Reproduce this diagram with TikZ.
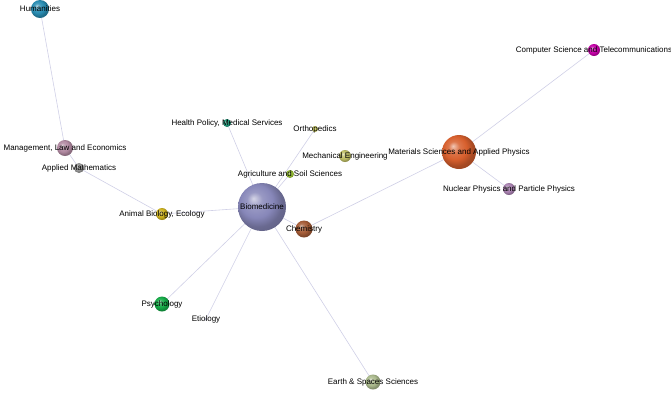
\documentclass[tikz,border=0pt]{standalone}
\usepackage{fontspec}
\setmainfont{Liberation Sans}
\pgfdeclarelayer{bg}
\pgfsetlayers{bg,main}
\definecolor{linkc}{RGB}{208,208,230}
\definecolor{sphc}{RGB}{128,128,128}
\definecolor{cHum}{RGB}{40,140,178}
\definecolor{cMle}{RGB}{178,138,162}
\definecolor{cAm}{RGB}{150,150,150}
\definecolor{cAb}{RGB}{205,178,30}
\definecolor{cHp}{RGB}{30,150,120}
\definecolor{cOrth}{RGB}{200,200,90}
\definecolor{cMech}{RGB}{190,190,100}
\definecolor{cAgri}{RGB}{150,190,50}
\definecolor{cBio}{RGB}{135,135,185}
\definecolor{cChem}{RGB}{165,92,55}
\definecolor{cMat}{RGB}{215,95,45}
\definecolor{cNuc}{RGB}{170,130,178}
\definecolor{cCs}{RGB}{200,0,170}
\definecolor{cPsy}{RGB}{20,170,70}
\definecolor{cEti}{RGB}{180,180,205}
\definecolor{cEarth}{RGB}{170,185,140}
\pgfdeclareradialshading[sphc]{softball}{\pgfpoint{-9bp}{9bp}}{%
  color(0bp)=(sphc!35!white);
  color(8bp)=(sphc!85!white);
  color(17bp)=(sphc);
  color(25bp)=(sphc!78!black);
  color(50bp)=(sphc!55!black)}
\tikzset{
  sph/.style 2 args={circle,inner sep=0pt,outer sep=0pt,minimum size=#2,
    /utils/exec={\colorlet{sphc}{#1}},shade,shading=softball},
  lbl/.style={font=\fontsize{8}{9.5}\selectfont,text=black,inner sep=0pt},
  link/.style={draw=linkc,line width=0.6pt}
}
\begin{document}
\begin{tikzpicture}[x=1pt,y=-1pt]
\useasboundingbox (0,0) rectangle (671,392);
% spheres
\node[sph={cHum}{18pt}] (hum) at (40,9) {};
\node[sph={cMle}{16pt}] (mle) at (65,148) {};
\node[sph={cAm}{10pt}] (am) at (79,168) {};
\node[sph={cAb}{12pt}] (ab) at (162,214) {};
\node[sph={cHp}{8pt}] (hp) at (227,123) {};
\node[sph={cOrth}{6pt}] (orth) at (315,129) {};
\node[sph={cMech}{12pt}] (mech) at (345,156) {};
\node[sph={cAgri}{8pt}] (agri) at (290,174) {};
\node[sph={cBio}{48pt}] (bio) at (262,207) {};
\node[sph={cChem}{17pt}] (chem) at (304,229) {};
\node[sph={cMat}{34pt}] (mat) at (459,152) {};
\node[sph={cNuc}{12pt}] (nuc) at (509,189) {};
\node[sph={cCs}{12pt}] (cs) at (594,50) {};
\node[sph={cPsy}{15pt}] (psy) at (162,304) {};
\node[sph={cEti}{3pt}] (eti) at (206,319) {};
\node[sph={cEarth}{15pt}] (earth) at (373,382) {};
% links
\begin{pgfonlayer}{bg}
\draw[link] (hum.center) -- (mle.center);
\draw[link] (mle.center) -- (am.center);
\draw[link] (am.center) -- (ab.center);
\draw[link] (ab.center) -- (bio.center);
\draw[link] (hp.center) -- (bio.center);
\draw[link] (orth.center) -- (bio.center);
\draw[link] (agri.center) -- (bio.center);
\draw[link] (bio.center) -- (chem.center);
\draw[link] (chem.center) -- (mat.center);
\draw[link] (mat.center) -- (cs.center);
\draw[link] (mat.center) -- (nuc.center);
\draw[link] (bio.center) -- (psy.center);
\draw[link] (bio.center) -- (eti.center);
\draw[link] (bio.center) -- (earth.center);
\end{pgfonlayer}
% labels
\node[lbl] (humT) at (hum) {Humanities};
\node[lbl] (mleT) at (mle) {Management, Law and Economics};
\node[lbl] (amT) at (am) {Applied Mathematics};
\node[lbl] (abT) at (ab) {Animal Biology, Ecology};
\node[lbl] (hpT) at (hp) {Health Policy, Medical Services};
\node[lbl] (orthT) at (orth) {Orthopedics};
\node[lbl] (mechT) at (mech) {Mechanical Engineering};
\node[lbl] (agriT) at (agri) {Agriculture and Soil Sciences};
\node[lbl] (bioT) at (bio) {Biomedicine};
\node[lbl] (chemT) at (chem) {Chemistry};
\node[lbl] (matT) at (mat) {Materials Sciences and Applied Physics};
\node[lbl] (nucT) at (nuc) {Nuclear Physics and Particle Physics};
\node[lbl] (csT) at (cs) {Computer Science and Telecommunications};
\node[lbl] (psyT) at (psy) {Psychology};
\node[lbl] (etiT) at (eti) {Etiology};
\node[lbl] (earthT) at (earth) {Earth \& Spaces Sciences};
\end{tikzpicture}
\end{document}
